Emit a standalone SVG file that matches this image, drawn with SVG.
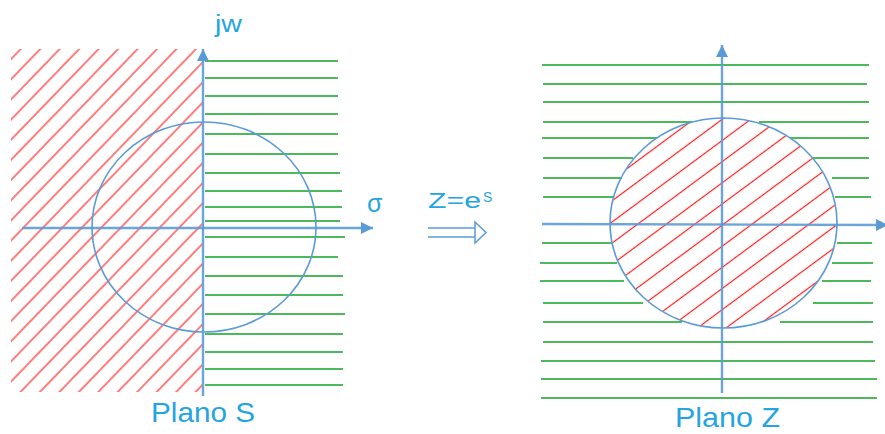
<svg xmlns="http://www.w3.org/2000/svg" width="885" height="434" viewBox="0 0 885 434">
<style>
.g{stroke:#4cba5c;stroke-width:1.8;fill:none}
.ax{stroke:#5b9bd5;stroke-width:2.4;fill:none;stroke-opacity:0.9}
.circ{stroke:#5b9bd5;stroke-width:1.6;fill:none}
.lbl{font-family:"Liberation Sans",Arial,sans-serif;fill:#25a4e2}
</style>
<defs>
<marker id="ah" markerUnits="userSpaceOnUse" markerWidth="12" markerHeight="12" viewBox="0 0 10 10" refX="10" refY="5" orient="auto">
<path d="M0,0 L10,5 L0,10 z" fill="#5b9bd5"/>
</marker>
<pattern id="hatchL" patternUnits="userSpaceOnUse" width="14" height="14" patternTransform="rotate(-46)">
<line x1="-1" y1="7" x2="15" y2="7" stroke="#ff1c1c" stroke-width="1.15"/>
</pattern>
<pattern id="hatchR" patternUnits="userSpaceOnUse" width="17" height="17" patternTransform="rotate(-36.5)">
<line x1="-1" y1="15.5" x2="18" y2="15.5" stroke="#ff1c1c" stroke-width="1.2"/>
</pattern>
<clipPath id="clipR"><ellipse cx="723.5" cy="223" rx="113" ry="105"/></clipPath>
</defs>

<g id="planoS">
<g id="s-green">
<line class="g" x1="205" y1="61" x2="338" y2="61"/>
<line class="g" x1="205" y1="78" x2="338" y2="78"/>
<line class="g" x1="205" y1="96" x2="338" y2="96"/>
<line class="g" x1="205" y1="114" x2="338" y2="114"/>
<line class="g" x1="205" y1="134" x2="338" y2="134"/>
<line class="g" x1="205" y1="154" x2="338" y2="154"/>
<line class="g" x1="205" y1="173" x2="340" y2="173"/>
<line class="g" x1="205" y1="191" x2="342" y2="191"/>
<line class="g" x1="205" y1="207" x2="342" y2="207"/>
<line class="g" x1="205" y1="221" x2="340" y2="221"/>
<line class="g" x1="205" y1="237" x2="345" y2="237"/>
<line class="g" x1="205" y1="257" x2="338" y2="257"/>
<line class="g" x1="205" y1="276" x2="343" y2="276"/>
<line class="g" x1="205" y1="295" x2="343" y2="295"/>
<line class="g" x1="205" y1="314" x2="345" y2="314"/>
<line class="g" x1="205" y1="334" x2="343" y2="334"/>
<line class="g" x1="205" y1="352" x2="343" y2="352"/>
<line class="g" x1="205" y1="369" x2="343" y2="369"/>
<line class="g" x1="205" y1="385" x2="343" y2="385"/>
</g>
<rect id="s-hatch" x="11" y="49" width="191" height="343" fill="url(#hatchL)"/>
<ellipse id="s-circle" class="circ" cx="204" cy="227" rx="112" ry="105"/>
</g>

<g id="planoZ">
<g id="z-green">
<line class="g" x1="542" y1="65" x2="869" y2="65"/>
<line class="g" x1="543" y1="84" x2="867" y2="84"/>
<line class="g" x1="543" y1="102" x2="869" y2="102"/>
<line class="g" x1="543" y1="122" x2="692" y2="122"/>
<line class="g" x1="759" y1="122" x2="869" y2="122"/>
<line class="g" x1="542" y1="138" x2="657" y2="138"/>
<line class="g" x1="790" y1="138" x2="869" y2="138"/>
<line class="g" x1="543" y1="158" x2="633" y2="158"/>
<line class="g" x1="812" y1="158" x2="869" y2="158"/>
<line class="g" x1="543" y1="178" x2="622" y2="178"/>
<line class="g" x1="832" y1="178" x2="869" y2="178"/>
<line class="g" x1="543" y1="197" x2="613" y2="197"/>
<line class="g" x1="835" y1="197" x2="871" y2="197"/>
<line class="g" x1="542" y1="243" x2="612" y2="243"/>
<line class="g" x1="837" y1="243" x2="872" y2="243"/>
<line class="g" x1="540" y1="263" x2="617" y2="263"/>
<line class="g" x1="832" y1="263" x2="873" y2="263"/>
<line class="g" x1="540" y1="281" x2="624" y2="281"/>
<line class="g" x1="822" y1="281" x2="871" y2="281"/>
<line class="g" x1="543" y1="303" x2="643" y2="303"/>
<line class="g" x1="813" y1="303" x2="873" y2="303"/>
<line class="g" x1="543" y1="322" x2="682" y2="322"/>
<line class="g" x1="780" y1="322" x2="873" y2="322"/>
<line class="g" x1="543" y1="342" x2="873" y2="342"/>
<line class="g" x1="541" y1="361" x2="875" y2="361"/>
<line class="g" x1="541" y1="379" x2="877" y2="379"/>
<line class="g" x1="541" y1="398" x2="877" y2="398"/>
</g>
<rect id="z-hatch" x="608" y="116" width="232" height="214" fill="url(#hatchR)" clip-path="url(#clipR)"/>
<ellipse id="z-circle" class="circ" cx="723.5" cy="223" rx="113.5" ry="105"/>
</g>

<g id="connectors">
<line class="ax" x1="203" y1="396" x2="203" y2="49" marker-end="url(#ah)"/>
<line class="ax" x1="22" y1="228" x2="373" y2="228" marker-end="url(#ah)"/>
<line class="ax" x1="722" y1="393" x2="722" y2="45" marker-end="url(#ah)"/>
<line class="ax" x1="542" y1="224" x2="888" y2="225" marker-end="url(#ah)"/>
</g>

<g id="mapping">
<g fill="none" stroke="#5b9bd5" stroke-width="1.5">
<line x1="428" y1="228" x2="475" y2="228"/>
<line x1="428" y1="237" x2="475" y2="237"/>
<path d="M475,222 L486,232.5 L475,243 Z" fill="#ffffff"/>
</g>
<text class="lbl" x="428" y="208" font-size="22" textLength="53" lengthAdjust="spacingAndGlyphs">Z=e</text>
<text class="lbl" x="483" y="202" font-size="14">S</text>
</g>

<g id="labels">
<text class="lbl" x="215" y="32" font-size="23" textLength="27" lengthAdjust="spacingAndGlyphs">jw</text>
<text class="lbl" x="367" y="212" font-size="25">σ</text>
<text class="lbl" x="151" y="422" font-size="28" textLength="104" lengthAdjust="spacingAndGlyphs">Plano S</text>
<text class="lbl" x="675" y="427" font-size="28" textLength="105" lengthAdjust="spacingAndGlyphs">Plano Z</text>
</g>
</svg>
